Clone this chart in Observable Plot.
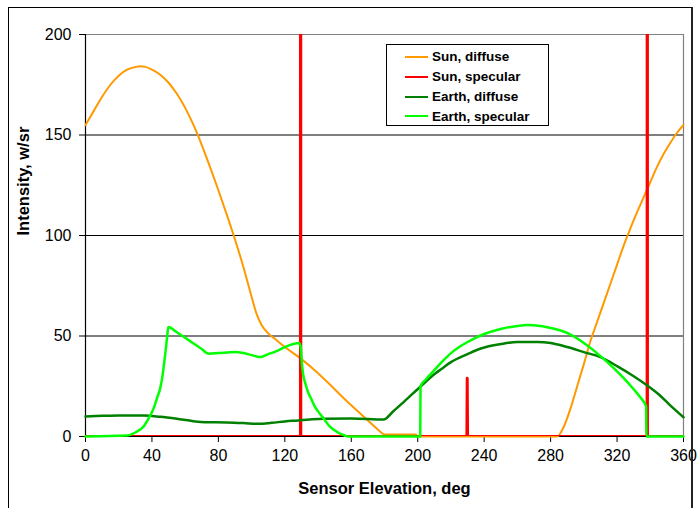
<!DOCTYPE html>
<html>
<head>
<meta charset="utf-8">
<script src="https://cdn.jsdelivr.net/npm/d3@7"></script>
<script src="https://cdn.jsdelivr.net/npm/@observablehq/plot@0.6"></script>
<style>
  html, body { margin: 0; padding: 0; background: #fff; overflow: hidden; }
  #wrap { position: relative; width: 697px; height: 508px; font-family: "Liberation Sans", Arial, sans-serif; }
  #outer { position: absolute; left: 8px; top: 7px; width: 685px; height: 540px; border: 1px solid #000; border-right: 2px solid #222; box-sizing: border-box; pointer-events: none; }
  #legend { position: absolute; left: 386px; top: 44px; width: 163px; height: 82px; border: 1px solid #000; box-sizing: border-box; background: #fff; }
  .row { position: absolute; left: 0; height: 20px; display: flex; align-items: center; font-weight: bold; font-size: 13.5px; color: #000; white-space: nowrap; }
  .swatch { display: inline-block; width: 23px; height: 0; border-top: 2px solid; margin-left: 18px; margin-right: 4px; }
</style>
</head>
<body>
<div id="wrap"></div>
<script>
// ---- Data ----
const seriesNames = ["Sun, diffuse", "Sun, specular", "Earth, diffuse", "Earth, specular"];
const seriesColors = ["#FF9900", "#FF0000", "#008000", "#00FF00"];

const sunDiffuseX = [0,5,10,15,20,25,30,33,36,40,45,50,55,60,65,70,75,80,85,90,95,100,103,106,110,114,120,130,140,150,160,170,176,180,185,190,199,200,284,288,292,296,300,304,308,312,316,320,324,328,332,336,340,344,348,352,356,360];
const sunDiffuseY = [155,162,169,175,179.5,182.5,183.8,184.2,183.9,182.5,180,176,170.5,163.5,155,145,134,122.5,110.5,98,84.5,69.5,61,55.5,51.3,48.6,44.5,38.5,31.5,23.5,15.5,8,3.5,1,1,1,1,0,0,5,14,25,36,47.5,57,66.5,76,85.5,95,103.5,111.5,119,126.5,134,140.5,146,151,155];

const sunSpecularX = [0,129.4,129.5,129.6,229.6,229.8,230,338.1,338.2,338.3,360];
const sunSpecularY = [0,0,1000,0,0,29,0,0,1000,0,0];

const earthDiffuseX = [0,10,20,35,45,55,65,72,85,95,104,112,120,128,135,144,160,179.5,185,192,201.7,210,215,220,230,238,250,260,272,280,290,300,310,320,330,338,345,352,360];
const earthDiffuseY = [10,10.3,10.5,10.4,9.8,8.8,7.6,7.1,7,6.7,6.3,6.8,7.5,8,8.5,8.8,9,8.5,12.3,17.5,24.9,31,34,37,41,43.8,46,47,47,46.5,44.5,42,39.5,35,30,25.5,21,15.5,9.6];

const earthSpecularX = [0,25,30,35,38,41,43,45,46.5,48,49.2,49.8,55,60,65,70,74,80,90,95,100,105,110,115,120,125,128.5,129.5,130.3,131,132.5,134,136,138,140,143.5,147,152,156,158,201.5,201.7,205,210,215,220,225,230,240,250,260,266,270,280,290,300,310,318,324,330,334,337.5,337.7,360];
const earthSpecularY = [0,0.5,2,5,9,14,19,24,31,41,50,54.5,51.9,49.1,46.3,43.5,41.2,41.5,42,41.5,40.5,39.5,41,42.5,44.5,46,46.5,45,36,31,26,22,18.5,15,12.5,8.8,5,2,0.5,0,0,25,28.5,33,37.5,41.5,44.5,47,51,53.5,55,55.5,55.3,54,51.5,46.5,40,34,29,23.5,19.5,15,0,0];

const xTicks = [0,40,80,120,160,200,240,280,320,360];
const yTicks = [0,50,100,150,200];
const gridY = [50,100,150];
const xTitle = "Sensor Elevation, deg";
const yTitle = "Intensity, w/sr";

// ---- Build tables ----
const toRows = (xs, ys) => xs.map((x, i) => ({x, y: ys[i]}));
const sunDiffuse = toRows(sunDiffuseX, sunDiffuseY);
const sunSpecular = toRows(sunSpecularX, sunSpecularY);
const earthDiffuse = toRows(earthDiffuseX, earthDiffuseY);
const earthSpecular = toRows(earthSpecularX, earthSpecularY);

const chart = Plot.plot({
  width: 697,
  height: 508,
  marginLeft: 85,
  marginRight: 14,
  marginTop: 34,
  marginBottom: 72,
  style: { fontFamily: "'Liberation Sans', Arial, sans-serif", fontSize: "16px", color: "#000", background: "#fff" },
  x: { domain: [0, 360] },
  y: { domain: [0, 200] },
  marks: [
    Plot.ruleY(gridY, { stroke: "#000", strokeWidth: 1 }),
    Plot.ruleY([200], { stroke: "#808080", strokeWidth: 1.2 }),
    Plot.ruleX([360], { stroke: "#808080", strokeWidth: 1.2 }),
    Plot.ruleX([0], { stroke: "#000", strokeWidth: 1.2 }),
    Plot.ruleY([0], { stroke: "#000", strokeWidth: 1 }),
    Plot.axisY({ ticks: yTicks, tickSize: 6, tickPadding: 8, fontSize: 16, label: null, stroke: "#000" }),
    Plot.axisX({ ticks: xTicks, tickSize: 6, tickPadding: 7, fontSize: 16, label: null, stroke: "#000" }),
    Plot.line(sunDiffuse, { x: "x", y: "y", stroke: seriesColors[0], strokeWidth: 2, curve: "monotone-x" }),
    Plot.line(sunSpecular, { x: "x", y: "y", stroke: seriesColors[1], strokeWidth: 3, curve: "linear", clip: true }),
    Plot.line(earthDiffuse, { x: "x", y: "y", stroke: seriesColors[2], strokeWidth: 2.5, curve: "monotone-x" }),
    Plot.line(earthSpecular, { x: "x", y: "y", stroke: seriesColors[3], strokeWidth: 2.5, curve: "monotone-x" }),
    Plot.text([xTitle], { frameAnchor: "bottom", dy: 52, lineAnchor: "middle", fontWeight: "bold", fontSize: 16.5, fill: "#000" }),
    Plot.text([yTitle], { frameAnchor: "left", dx: -62, rotate: -90, lineAnchor: "middle", fontWeight: "bold", fontSize: 16.5, fill: "#000" })
  ]
});

const wrap = document.getElementById("wrap");
wrap.appendChild(chart);

// Legend
const legend = document.createElement("div");
legend.id = "legend";
seriesNames.forEach((name, i) => {
  const row = document.createElement("div");
  row.className = "row";
  row.style.top = (1.7 + i * 19.9) + "px";
  const sw = document.createElement("span");
  sw.className = "swatch";
  sw.style.borderTopColor = seriesColors[i];
  const label = document.createElement("span");
  label.textContent = name;
  row.appendChild(sw);
  row.appendChild(label);
  legend.appendChild(row);
});
wrap.appendChild(legend);

const outer = document.createElement("div");
outer.id = "outer";
wrap.appendChild(outer);
</script>
</body>
</html>
